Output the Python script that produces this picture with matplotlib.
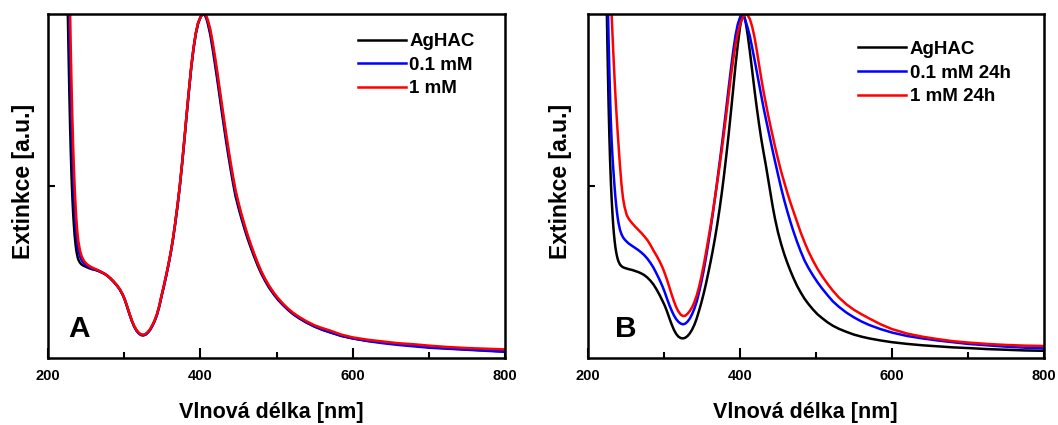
import matplotlib
matplotlib.use("Agg")
import matplotlib.pyplot as plt
from matplotlib.ticker import MultipleLocator

plt.rcParams['font.family'] = ['Liberation Sans', 'DejaVu Sans']
plt.rcParams['font.weight'] = 'bold'

# wavelength grid [nm], shared by all six spectra
wavelength = [222, 223, 224, 225, 226, 227, 228, 229, 230, 231, 232, 233, 234, 235, 236, 237, 238, 239, 240,
              242, 244, 246, 248, 251, 254, 258, 262, 266, 270, 274, 278, 282, 286, 290, 294, 298,
              301, 304, 307, 310, 313, 316, 319, 322, 325, 328, 331, 334, 337, 340, 343, 346, 349, 352,
              355, 358, 361, 364, 367, 370, 373, 376, 379, 382, 385, 388, 391, 394, 397, 400,
              402, 404, 406, 408, 410,
              413, 416, 419, 422, 425, 428, 431, 434, 437, 440, 443, 446,
              450, 454, 458, 462, 466, 470,
              475, 480, 485, 490, 496, 502, 508, 515, 522, 530, 540, 550, 560, 570, 585, 600, 620, 640,
              660, 680, 700, 725, 750, 775, 800]

# panel A (normalised extinction)
a_aghac = [1.6, 1.45, 1.3, 1.15, 1.0, 0.88, 0.77, 0.67, 0.59, 0.52, 0.465, 0.42, 0.385, 0.355, 0.333, 0.315, 0.302, 0.292, 0.285,
           0.277, 0.272, 0.269, 0.267, 0.264, 0.261, 0.258, 0.256, 0.253, 0.249, 0.245, 0.239, 0.231, 0.222, 0.212, 0.2, 0.184,
           0.168, 0.148, 0.127, 0.108, 0.092, 0.08, 0.072, 0.067, 0.066, 0.068, 0.074, 0.082, 0.094, 0.108, 0.126, 0.15, 0.18, 0.208,
           0.238, 0.27, 0.305, 0.345, 0.392, 0.443, 0.5, 0.565, 0.635, 0.708, 0.778, 0.845, 0.9, 0.943, 0.973, 0.99,
           0.998, 1.0, 0.996, 0.986, 0.97,
           0.94, 0.9, 0.857, 0.812, 0.765, 0.718, 0.672, 0.627, 0.585, 0.545, 0.507, 0.472,
           0.437, 0.405, 0.375, 0.347, 0.322, 0.298,
           0.27, 0.245, 0.224, 0.205, 0.186, 0.169, 0.155, 0.14, 0.127, 0.115, 0.102, 0.091, 0.082, 0.075, 0.064, 0.057, 0.05, 0.045,
           0.04, 0.036, 0.032, 0.028, 0.025, 0.022, 0.019]
a_01mm = [2.0, 1.78, 1.58, 1.4, 1.24, 1.09, 0.96, 0.85, 0.75, 0.665, 0.59, 0.53, 0.475, 0.43, 0.395, 0.365, 0.342, 0.325, 0.312,
          0.295, 0.285, 0.278, 0.273, 0.268, 0.264, 0.26, 0.257, 0.254, 0.25, 0.245, 0.239, 0.231, 0.222, 0.212, 0.2, 0.184,
          0.168, 0.148, 0.127, 0.108, 0.092, 0.08, 0.072, 0.067, 0.066, 0.068, 0.074, 0.082, 0.094, 0.108, 0.126, 0.15, 0.18, 0.208,
          0.238, 0.27, 0.305, 0.345, 0.392, 0.443, 0.5, 0.565, 0.635, 0.708, 0.778, 0.845, 0.9, 0.943, 0.973, 0.99,
          0.998, 1.0, 0.998, 0.99, 0.976,
          0.948, 0.91, 0.868, 0.823, 0.776, 0.729, 0.683, 0.638, 0.595, 0.555, 0.517, 0.481,
          0.445, 0.412, 0.381, 0.353, 0.327, 0.303,
          0.274, 0.249, 0.227, 0.208, 0.188, 0.171, 0.156, 0.141, 0.128, 0.116, 0.103, 0.092, 0.083, 0.075, 0.065, 0.057, 0.049, 0.043,
          0.038, 0.034, 0.03, 0.027, 0.024, 0.021, 0.018]
a_1mm = [2.5, 2.2, 1.95, 1.72, 1.5, 1.3, 1.14, 1.0, 0.88, 0.78, 0.69, 0.615, 0.55, 0.495, 0.45, 0.41, 0.38, 0.355, 0.337,
         0.312, 0.297, 0.287, 0.28, 0.273, 0.268, 0.263, 0.259, 0.255, 0.25, 0.245, 0.239, 0.232, 0.223, 0.213, 0.201, 0.185,
         0.169, 0.15, 0.129, 0.11, 0.094, 0.082, 0.074, 0.069, 0.068, 0.07, 0.076, 0.084, 0.096, 0.11, 0.128, 0.152, 0.182, 0.21,
         0.24, 0.272, 0.307, 0.347, 0.394, 0.445, 0.502, 0.567, 0.637, 0.71, 0.78, 0.847, 0.902, 0.945, 0.975, 0.99,
         0.998, 1.0, 0.999, 0.993, 0.981,
         0.956, 0.92, 0.879, 0.835, 0.788, 0.741, 0.695, 0.65, 0.606, 0.565, 0.526, 0.49,
         0.452, 0.418, 0.387, 0.358, 0.332, 0.307,
         0.278, 0.252, 0.23, 0.211, 0.191, 0.174, 0.159, 0.144, 0.131, 0.119, 0.106, 0.095, 0.087, 0.08, 0.068, 0.06, 0.053, 0.048,
         0.043, 0.04, 0.036, 0.032, 0.029, 0.027, 0.025]

# panel B (after 24 h)
b_aghac = [1.5, 1.3, 1.12, 0.97, 0.85, 0.74, 0.65, 0.575, 0.515, 0.465, 0.425, 0.39, 0.362, 0.34, 0.322, 0.308, 0.297, 0.288, 0.281,
           0.272, 0.267, 0.264, 0.262, 0.26, 0.258, 0.256, 0.253, 0.25, 0.246, 0.241, 0.234, 0.225, 0.214, 0.2, 0.184, 0.166,
           0.152, 0.135, 0.116, 0.098, 0.082, 0.07, 0.062, 0.058, 0.057, 0.059, 0.064, 0.072, 0.083, 0.097, 0.115, 0.137, 0.16, 0.186,
           0.214, 0.245, 0.277, 0.311, 0.348, 0.388, 0.432, 0.48, 0.533, 0.59, 0.65, 0.715, 0.782, 0.85, 0.91, 0.962,
           0.988, 1.0, 0.99, 0.968, 0.94,
           0.89, 0.835, 0.78, 0.728, 0.68, 0.636, 0.597, 0.56, 0.52, 0.48, 0.44, 0.405,
           0.365, 0.332, 0.303, 0.278, 0.255, 0.234,
           0.21, 0.19, 0.172, 0.157, 0.141, 0.127, 0.116, 0.104, 0.094, 0.085, 0.076, 0.068, 0.062, 0.057, 0.051, 0.046, 0.041, 0.037,
           0.034, 0.031, 0.029, 0.026, 0.024, 0.022, 0.021]
b_01mm = [1.9, 1.62, 1.4, 1.2, 1.04, 0.93, 0.84, 0.76, 0.69, 0.635, 0.592, 0.557, 0.525, 0.495, 0.468, 0.445, 0.425, 0.408, 0.394,
          0.373, 0.36, 0.351, 0.345, 0.338, 0.332, 0.326, 0.32, 0.314, 0.307, 0.299, 0.289, 0.277, 0.263, 0.246, 0.228, 0.208,
          0.191, 0.172, 0.154, 0.138, 0.124, 0.113, 0.105, 0.1, 0.098, 0.1, 0.106, 0.115, 0.128, 0.144, 0.164, 0.19, 0.22, 0.253,
          0.29, 0.33, 0.372, 0.417, 0.465, 0.515, 0.566, 0.618, 0.672, 0.728, 0.785, 0.84, 0.892, 0.937, 0.97, 0.99,
          1.0, 0.997, 0.988, 0.975, 0.96,
          0.935, 0.902, 0.868, 0.833, 0.797, 0.762, 0.727, 0.695, 0.664, 0.633, 0.602, 0.572,
          0.533, 0.495, 0.46, 0.428, 0.398, 0.37,
          0.338, 0.309, 0.283, 0.262, 0.24, 0.22, 0.202, 0.183, 0.165, 0.149, 0.132, 0.118, 0.106, 0.096, 0.084, 0.074, 0.064, 0.057,
          0.051, 0.046, 0.041, 0.037, 0.033, 0.03, 0.028]
b_1mm = [2.0, 1.82, 1.66, 1.52, 1.4, 1.3, 1.21, 1.13, 1.06, 1.0, 0.95, 0.9, 0.853, 0.808, 0.765, 0.727, 0.69, 0.655, 0.623,
         0.56, 0.505, 0.465, 0.44, 0.415, 0.403, 0.392, 0.382, 0.373, 0.364, 0.354, 0.343, 0.329, 0.313, 0.298, 0.282, 0.263,
         0.246, 0.227, 0.206, 0.185, 0.165, 0.148, 0.135, 0.126, 0.122, 0.123, 0.129, 0.137, 0.148, 0.163, 0.182, 0.206, 0.235, 0.268,
         0.304, 0.342, 0.381, 0.422, 0.465, 0.51, 0.557, 0.605, 0.656, 0.71, 0.764, 0.818, 0.867, 0.91, 0.944, 0.969,
         0.982, 0.992, 0.998, 1.0, 0.997,
         0.985, 0.963, 0.933, 0.895, 0.853, 0.812, 0.774, 0.74, 0.706, 0.675, 0.645, 0.615,
         0.578, 0.543, 0.512, 0.482, 0.454, 0.428,
         0.396, 0.364, 0.336, 0.31, 0.283, 0.259, 0.238, 0.216, 0.196, 0.176, 0.156, 0.14, 0.127, 0.115, 0.098, 0.084, 0.071, 0.062,
         0.055, 0.049, 0.045, 0.041, 0.038, 0.036, 0.035]

labels_a = ['AgHAC', '0.1 mM', '1 mM']
labels_b = ['AgHAC', '0.1 mM 24h', '1 mM 24h']
colors = ['black', '#0000ff', '#ff0000']

for s in [a_aghac, a_01mm, a_1mm, b_aghac, b_01mm, b_1mm]:
    assert len(s) == len(wavelength), len(s)

fig = plt.figure(figsize=(10.58, 4.25), dpi=100)
ax_a = fig.add_axes([0.0454, 0.1576, 0.432, 0.8094])
ax_b = fig.add_axes([0.5558, 0.1576, 0.431, 0.8094])


def style_axis(ax, letter, letter_x, xlabel_x, ylabel_x):
    ax.set_xlim(200, 800)
    ax.set_ylim(0, 1)
    ax.xaxis.set_major_locator(MultipleLocator(200))
    ax.xaxis.set_minor_locator(MultipleLocator(100))
    ax.set_yticks([0.5])
    ax.set_yticklabels([])
    ax.tick_params(axis='x', which='major', direction='in', length=7, width=1.5,
                   labelsize=10.5, pad=8)
    ax.tick_params(axis='x', which='minor', direction='in', length=4, width=1.5)
    ax.tick_params(axis='y', direction='in', length=5, width=1.5)
    for lbl in ax.get_xticklabels():
        lbl.set_fontweight('bold')
    for sp in ax.spines.values():
        sp.set_linewidth(1.8)
    ax.set_xlabel('Vlnová délka [nm]', fontsize=15.5, fontweight='bold')
    ax.xaxis.set_label_coords(xlabel_x, -0.128)
    ax.set_ylabel('Extinkce [a.u.]', fontsize=16.5, fontweight='bold')
    ax.yaxis.set_label_coords(ylabel_x, 0.513)
    ax.text(letter_x, 0.062, letter, transform=ax.transAxes, fontsize=21.5,
            fontweight='bold', ha='left', va='baseline')


for vals, lab, c in zip([a_aghac, a_01mm, a_1mm], labels_a, colors):
    ax_a.plot(wavelength, vals, color=c, lw=1.8, label=lab, solid_joinstyle='round')
for vals, lab, c in zip([b_aghac, b_01mm, b_1mm], labels_b, colors):
    ax_b.plot(wavelength, vals, color=c, lw=1.8, label=lab, solid_joinstyle='round')

style_axis(ax_a, 'A', 0.044, 0.489, -0.028)
style_axis(ax_b, 'B', 0.059, 0.476, -0.035)

leg_kw = dict(frameon=False, loc='upper left', fontsize=13.5, handlelength=2.55,
              handletextpad=0.2, labelspacing=0.35, borderpad=0, borderaxespad=0)
leg = ax_a.legend(bbox_to_anchor=(0.678, 0.945), **leg_kw)
for t in leg.get_texts():
    t.set_fontweight('bold')
leg = ax_b.legend(bbox_to_anchor=(0.592, 0.922), **leg_kw)
for t in leg.get_texts():
    t.set_fontweight('bold')

fig.savefig('out.png', dpi=100)
